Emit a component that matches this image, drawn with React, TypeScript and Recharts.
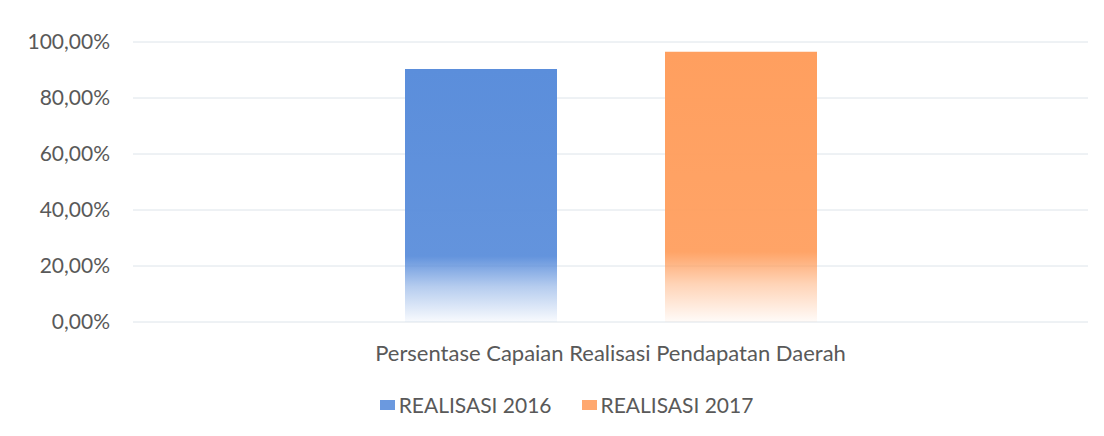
import { BarChart, Bar, XAxis, YAxis, CartesianGrid, Legend } from 'recharts';

const categories = ['Persentase Capaian Realisasi Pendapatan Daerah'];
const realisasi2016 = [0.904];
const realisasi2017 = [0.965];
const yTicks = [0, 0.2, 0.4, 0.6, 0.8, 1];

const seriesNames = ['REALISASI 2016', 'REALISASI 2017'];
const seriesColors = ['#5B8EDB', '#FF9F5F'];

const data = categories.map((name, i) => ({
  name,
  r2016: realisasi2016[i],
  r2017: realisasi2017[i],
}));

const FONT = 'Lato, "Open Sans", sans-serif';
const TEXT = '#595959';

const formatPercent = (v: number) =>
  (v * 100).toFixed(2).replace('.', ',') + '%';

function LegendContent() {
  return (
    <div
      style={{
        display: 'flex',
        justifyContent: 'center',
        alignItems: 'center',
        fontFamily: FONT,
        fontSize: 21,
        color: TEXT,
        gap: 30,
        paddingLeft: 45,
      }}
    >
      {seriesNames.map((n, i) => (
        <span key={n} style={{ display: 'flex', alignItems: 'center' }}>
          <span
            style={{
              display: 'inline-block',
              width: 15,
              height: 10,
              background: seriesColors[i],
              opacity: 0.9,
              marginRight: 4,
            }}
          />
          {n}
        </span>
      ))}
    </div>
  );
}

export default function App() {
  return (
    <div
      style={{
        position: 'absolute',
        top: 0,
        left: 0,
        width: 1104,
        height: 436,
        background: '#fff',
      }}
    >
      <BarChart
        width={1104}
        height={436}
        data={data}
        margin={{ top: 42, right: 16, bottom: 19, left: 0 }}
        barSize={152}
        barGap={108}
      >
        <defs>
          {seriesColors.map((c, i) => (
            <linearGradient key={c} id={`fade-${i}`} x1="0" y1="0" x2="0" y2="1">
              <stop offset="0" stopColor={c} stopOpacity={1} />
              <stop offset="0.74" stopColor={c} stopOpacity={0.95} />
              <stop offset="0.86" stopColor={c} stopOpacity={0.45} />
              <stop offset="1" stopColor={c} stopOpacity={0.04} />
            </linearGradient>
          ))}
        </defs>
        <CartesianGrid vertical={false} stroke="#dde4ea" />
        <XAxis
          dataKey="name"
          axisLine={false}
          tickLine={false}
          tickSize={0}
          tickMargin={23}
          height={70}
          tick={{ fill: TEXT, fontSize: 22, fontFamily: FONT }}
        />
        <YAxis
          domain={[0, 1]}
          ticks={yTicks}
          tickFormatter={formatPercent}
          axisLine={false}
          tickLine={false}
          tickSize={0}
          tickMargin={23}
          width={133}
          tick={{ fill: TEXT, fontSize: 21, fontFamily: FONT }}
        />
        <Legend verticalAlign="bottom" content={<LegendContent />} />
        <Bar
          dataKey="r2016"
          name={seriesNames[0]}
          fill="url(#fade-0)"
          isAnimationActive={false}
        />
        <Bar
          dataKey="r2017"
          name={seriesNames[1]}
          fill="url(#fade-1)"
          isAnimationActive={false}
        />
      </BarChart>
    </div>
  );
}
